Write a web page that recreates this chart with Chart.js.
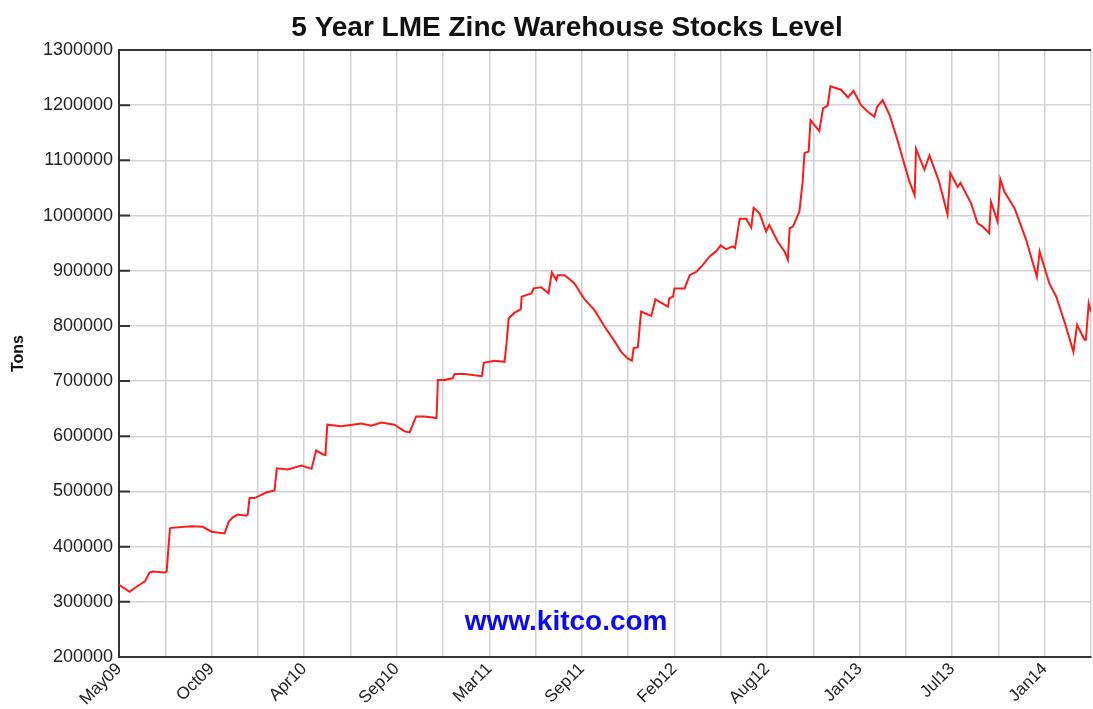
<!DOCTYPE html>
<html>
<head>
<meta charset="utf-8">
<script src="https://cdn.jsdelivr.net/npm/chart.js@4.4.0/dist/chart.umd.min.js"></script>
<style>
  html, body { margin: 0; padding: 0; background: #fff; }
  canvas { display: block; }
</style>
</head>
<body>
<canvas id="chart" width="1093" height="709" style="width:1093px;height:709px"></canvas>
<script>
// x positions are in grid steps (one vertical grid line each, about a quarter year)
const chartTitle = '5 Year LME Zinc Warehouse Stocks Level';
const dateLabels = ['May09', 'Oct09', 'Apr10', 'Sep10', 'Mar11', 'Sep11', 'Feb12', 'Aug12', 'Jan13', 'Jul13', 'Jan14'];
const yTicks = [200000, 300000, 400000, 500000, 600000, 700000, 800000, 900000, 1000000, 1100000, 1200000, 1300000];

const xPos = [
  0.00, 0.23, 0.34, 0.56, 0.66, 0.73, 0.99, 1.03, 1.10, 1.13, 1.56, 1.81, 2.00, 2.28, 2.37, 2.46,
  2.57, 2.75, 2.78, 2.82, 2.93, 3.18, 3.36, 3.41, 3.65, 3.94, 4.16, 4.26, 4.41, 4.46, 4.50, 4.80,
  5.24, 5.45, 5.67, 5.95, 6.17, 6.28, 6.42, 6.60, 6.86, 6.89, 7.03, 7.21, 7.25, 7.47, 7.84, 7.88,
  8.11, 8.33, 8.37, 8.42, 8.55, 8.68, 8.70, 8.91, 8.96, 9.12, 9.28, 9.35, 9.45, 9.48, 9.63, 9.84,
  10.06, 10.27, 10.49, 10.71, 10.85, 10.99, 11.08, 11.12, 11.21, 11.28, 11.39, 11.50, 11.59, 11.71,
  11.86, 11.89, 11.97, 12.00, 12.22, 12.33, 12.47, 12.61, 12.76, 12.90, 13.00, 13.12, 13.26, 13.31,
  13.41, 13.55, 13.66, 13.71, 13.84, 13.98, 14.05, 14.23, 14.38, 14.45, 14.49, 14.56, 14.70, 14.77,
  14.81, 14.90, 14.94, 15.13, 15.21, 15.31, 15.37, 15.60, 15.75, 15.87, 16.03, 16.18, 16.32, 16.38,
  16.50, 16.65, 16.83, 16.93, 17.08, 17.19, 17.22, 17.40, 17.51, 17.72, 17.90, 17.96, 18.12, 18.18,
  18.41, 18.55, 18.66, 18.80, 18.84, 18.98, 19.04, 19.13, 19.35, 19.60, 19.83, 19.89, 20.10, 20.25,
  20.46, 20.62, 20.70, 20.86, 20.89, 20.95, 21.00
];

const stocks = [
  331000, 318000, 325000, 337000, 353000, 355000, 353000, 355000, 433000, 434000, 437000, 436000, 427000, 424000, 445000, 453000,
  458000, 456000, 458000, 488000, 488000, 498000, 502000, 542000, 540000, 547000, 541000, 574000, 567000, 566000, 621000, 618000,
  623000, 619000, 625000, 621000, 609000, 607000, 636000, 636000, 633000, 702000, 702000, 705000, 713000, 713000, 709000, 733000,
  737000, 735000, 766000, 814000, 824000, 830000, 853000, 859000, 868000, 870000, 859000, 897000, 883000, 892000, 892000, 877000,
  848000, 829000, 799000, 772000, 753000, 741000, 737000, 760000, 761000, 826000, 822000, 818000, 848000, 842000,
  835000, 850000, 853000, 868000, 868000, 892000, 898000, 910000, 926000, 935000, 946000, 939000, 944000, 941000,
  994000, 994000, 978000, 1014000, 1004000, 971000, 983000, 953000, 935000, 920000, 977000, 980000, 1007000, 1061000,
  1113000, 1116000, 1173000, 1153000, 1194000, 1199000, 1234000, 1228000, 1214000, 1226000, 1200000, 1188000, 1179000, 1197000,
  1209000, 1182000, 1134000, 1104000, 1061000, 1037000, 1121000, 1083000, 1109000, 1061000, 1002000, 1077000, 1052000, 1059000,
  1022000, 986000, 980000, 968000, 1025000, 989000, 1066000, 1043000, 1013000, 956000, 889000, 935000, 877000, 853000,
  799000, 753000, 802000, 775000, 775000, 841000, 825000
];

const points = xPos.map((x, i) => ({ x: x, y: stocks[i] }));

// title, dark top border, inward y ticks and the kitco watermark
const framePlugin = {
  id: 'framePlugin',
  beforeDatasetsDraw(chart) {
    const { ctx, chartArea: a } = chart;
    ctx.save();
    ctx.fillStyle = '#0a0af5';
    ctx.font = 'bold 28px "Liberation Sans", Arial, sans-serif';
    ctx.textAlign = 'center';
    ctx.textBaseline = 'middle';
    ctx.fillText('www.kitco.com', a.left + (a.right - a.left) * 0.46, a.bottom - 35);
    ctx.restore();
  },
  afterDraw(chart) {
    const { ctx, chartArea: a, scales } = chart;
    ctx.save();
    ctx.fillStyle = '#111';
    ctx.font = 'bold 28px "Liberation Sans", Arial, sans-serif';
    ctx.textAlign = 'center';
    ctx.textBaseline = 'middle';
    ctx.fillText(chartTitle, 567, 28);

    ctx.strokeStyle = '#333';
    ctx.lineWidth = 2;
    ctx.beginPath();
    ctx.moveTo(a.left - 1, a.top);
    ctx.lineTo(a.right, a.top);
    scales.y.ticks.forEach(t => {
      const py = scales.y.getPixelForValue(t.value);
      ctx.moveTo(a.left, py);
      ctx.lineTo(a.left + 11, py);
    });
    ctx.stroke();
    ctx.restore();
  }
};

const ctx = document.getElementById('chart').getContext('2d');
new Chart(ctx, {
  type: 'line',
  data: {
    datasets: [{
      data: points,
      borderColor: '#ff1a1a',
      borderWidth: 2,
      pointRadius: 0,
      tension: 0,
      fill: false
    }]
  },
  options: {
    responsive: false,
    animation: false,
    layout: { padding: { left: 0, right: 2, top: 50, bottom: 0 } },
    plugins: {
      legend: { display: false },
      tooltip: { enabled: false },
      title: { display: false }
    },
    scales: {
      x: {
        type: 'linear',
        min: 0,
        max: 21,
        grid: { color: '#d2d2d2', lineWidth: 1.5, drawTicks: false },
        border: { display: true, color: '#333', width: 2 },
        ticks: {
          stepSize: 1,
          autoSkip: false,
          maxRotation: 45,
          minRotation: 45,
          padding: 2,
          color: '#222',
          font: { family: '"Liberation Sans", Arial, sans-serif', size: 17 },
          callback: v => (v % 2 === 0 ? dateLabels[v / 2] : '')
        },
        afterFit: s => { s.height = 52; s.paddingLeft = 0; s.paddingRight = 0; }
      },
      y: {
        min: yTicks[0],
        max: yTicks[yTicks.length - 1],
        grid: { color: '#d2d2d2', lineWidth: 1.5, drawTicks: false },
        border: { display: true, color: '#333', width: 2 },
        ticks: {
          stepSize: 100000,
          padding: 6,
          color: '#222',
          font: { family: '"Liberation Sans", Arial, sans-serif', size: 18 },
          callback: v => String(v)
        },
        title: {
          display: true,
          text: 'Tons',
          color: '#111',
          font: { family: '"Liberation Sans", Arial, sans-serif', size: 16, weight: 'bold' },
          padding: { top: 9, bottom: 0 }
        },
        afterFit: s => { s.width = 119; s.paddingTop = 0; s.paddingBottom = 0; }
      }
    }
  },
  plugins: [framePlugin]
});
</script>
</body>
</html>
